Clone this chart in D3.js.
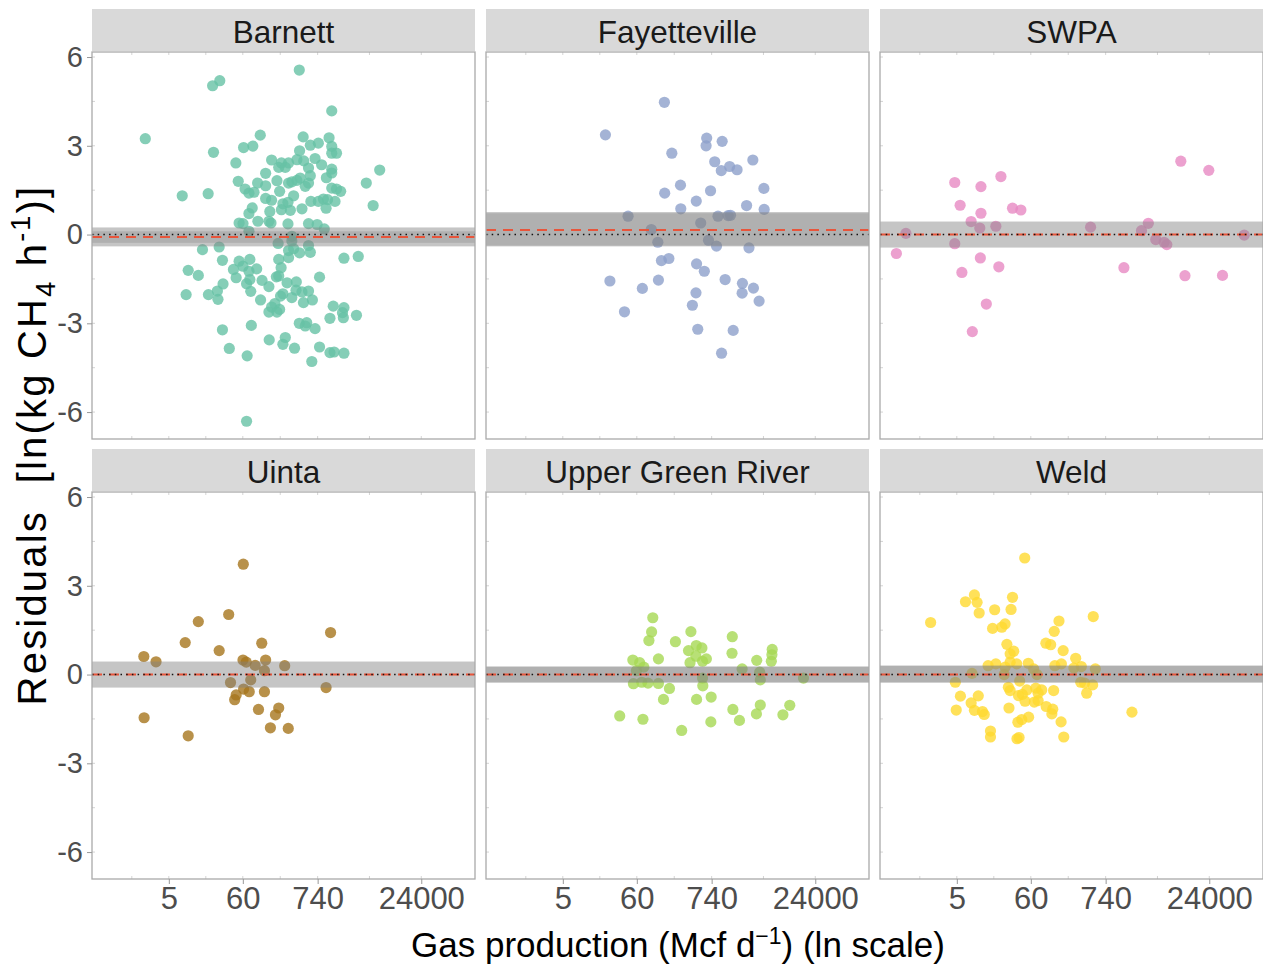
<!DOCTYPE html>
<html>
<head>
<meta charset="utf-8">
<script src="https://cdn.jsdelivr.net/npm/d3@7/dist/d3.min.js"></script>
<style>
  body { margin: 0; background: #fff; }
  text { font-family: "Liberation Sans", Arial, sans-serif; }
</style>
</head>
<body>
<div id="chart"></div>
<script>
// --- data: [ln(gas production), residual] ---
const basins = ["Barnett", "Fayetteville", "SWPA", "Uinta", "Upper Green River", "Weld"];

const barnett = [
  [5.99,5.56],[3.32,5.20],[3.08,5.03],[7.08,4.18],[0.82,3.24],[4.68,3.36],[4.43,2.99],[4.12,2.94],
  [3.11,2.78],[6.12,3.30],[6.63,3.09],[6.36,3.02],[6.99,3.27],[7.08,2.98],[7.08,2.75],[7.24,2.75],
  [3.86,2.42],[5.06,2.52],[6.00,2.83],[5.91,2.53],[6.14,2.49],[6.52,2.57],[6.74,2.36],[5.39,2.42],
  [5.63,2.42],[5.30,2.27],[5.52,2.27],[7.08,2.21],[7.08,2.08],[6.30,2.25],[8.69,2.18],[4.86,2.07],
  [6.90,1.92],[6.36,1.99],[6.02,1.91],[5.91,1.83],[5.24,1.82],[5.63,1.74],[5.74,1.78],[8.24,1.74],
  [3.94,1.80],[4.59,1.74],[4.86,1.65],[4.17,1.54],[6.19,1.63],[6.30,1.74],[7.08,1.57],[7.24,1.54],
  [7.38,1.46],[2.06,1.31],[2.93,1.38],[4.30,1.40],[4.47,1.43],[5.33,1.46],[4.86,1.22],[5.80,1.31],
  [6.38,1.12],[6.63,1.12],[6.80,1.20],[6.94,1.18],[7.19,1.12],[8.47,0.98],[5.06,1.16],[5.44,1.04],
  [5.61,1.09],[5.39,0.84],[5.69,0.82],[6.08,0.87],[6.89,0.89],[4.41,0.90],[4.30,0.71],[5.00,0.78],
  [4.60,0.45],[3.97,0.39],[4.10,0.37],[4.97,0.45],[5.04,0.39],[5.61,0.36],[6.30,0.37],[6.59,0.34],
  [6.83,0.19],[4.30,0.11],[5.74,-0.06],[5.74,-0.22],[5.28,-0.30],[5.80,-0.48],[5.63,-0.54],[6.00,-0.62],
  [6.30,-0.37],[6.36,-0.60],[2.74,-0.51],[3.30,-0.42],[3.41,-0.87],[5.30,-0.84],[5.63,-0.78],[7.49,-0.80],
  [7.97,-0.74],[3.97,-0.90],[4.33,-0.84],[4.10,-1.07],[3.78,-1.18],[4.56,-1.16],[4.30,-1.24],[5.38,-1.12],
  [2.26,-1.21],[2.60,-1.38],[3.87,-1.46],[4.33,-1.52],[5.22,-1.43],[5.30,-1.40],[6.67,-1.44],[4.74,-1.55],
  [4.22,-1.66],[5.58,-1.63],[5.89,-1.60],[4.97,-1.76],[3.43,-1.67],[4.36,-1.92],[3.24,-1.91],[5.88,-1.88],
  [6.30,-1.91],[5.44,-2.00],[5.74,-2.13],[6.08,-1.94],[2.19,-2.03],[2.94,-2.03],[3.26,-2.19],[4.69,-2.21],
  [5.36,-2.08],[6.43,-2.21],[5.17,-2.33],[6.13,-2.30],[5.06,-2.45],[4.97,-2.62],[5.24,-2.62],[5.33,-2.53],
  [7.13,-2.42],[7.49,-2.47],[7.44,-2.64],[7.47,-2.81],[7.02,-2.83],[7.91,-2.73],[5.99,-3.00],[6.24,-2.98],
  [6.19,-3.09],[6.52,-3.18],[4.38,-3.07],[3.41,-3.22],[5.52,-3.48],[4.98,-3.56],[5.44,-3.71],[5.83,-3.84],
  [6.67,-3.80],[3.64,-3.85],[4.24,-4.10],[7.02,-3.99],[7.16,-3.97],[7.49,-4.01],[6.41,-4.29],[4.22,-6.31]
];

const fayetteville = [
  [5.02,4.47],[3.04,3.37],[6.44,3.26],[6.96,3.15],[6.42,3.00],[5.27,2.75],[6.71,2.46],[7.99,2.52],
  [7.21,2.30],[6.93,2.16],[7.46,2.19],[5.56,1.67],[5.03,1.40],[6.57,1.48],[8.36,1.56],[6.09,1.13],
  [5.57,0.87],[7.78,0.98],[8.37,0.85],[3.80,0.62],[6.82,0.62],[7.16,0.64],[7.24,0.65],[6.24,0.39],
  [4.58,0.17],[4.80,-0.26],[6.50,-0.19],[6.77,-0.39],[7.86,-0.45],[4.92,-0.88],[5.17,-0.81],[6.10,-0.99],
  [6.36,-1.24],[3.19,-1.57],[4.82,-1.54],[7.06,-1.52],[7.64,-1.65],[4.28,-1.82],[8.01,-1.81],[6.08,-1.97],
  [7.63,-1.98],[8.20,-2.25],[5.96,-2.39],[3.68,-2.61],[6.14,-3.20],[7.33,-3.24],[6.94,-4.01]
];

const swpa = [
  [-0.42,-0.64],[-0.10,0.04],[1.54,1.76],[2.42,1.62],[3.09,1.96],[1.72,0.99],[2.42,0.72],[3.48,0.89],
  [3.76,0.83],[2.09,0.44],[2.38,0.22],[2.92,0.28],[1.54,-0.31],[2.40,-0.79],[1.78,-1.28],[3.02,-1.09],
  [2.60,-2.35],[2.13,-3.28],[6.10,0.25],[7.22,-1.12],[8.04,0.38],[7.81,0.13],[8.29,-0.17],[8.57,-0.26],
  [8.66,-0.34],[9.13,2.48],[10.07,2.17],[9.27,-1.39],[10.53,-1.38],[11.26,-0.02]
];

const uinta = [
  [4.11,3.73],[3.62,2.03],[2.60,1.79],[2.16,1.08],[3.30,0.81],[7.04,1.42],[4.73,1.06],[0.77,0.61],
  [1.18,0.43],[4.10,0.49],[4.21,0.42],[4.51,0.31],[4.86,0.49],[4.82,0.13],[5.50,0.30],[3.68,-0.27],
  [4.36,-0.18],[4.12,-0.49],[4.31,-0.58],[3.87,-0.69],[3.82,-0.85],[4.82,-0.58],[6.89,-0.44],[4.62,-1.18],
  [5.30,-1.13],[5.19,-1.36],[5.02,-1.80],[5.62,-1.82],[0.78,-1.46],[2.26,-2.07]
];

const upperGreenRiver = [
  [4.63,1.92],[4.59,1.44],[4.50,1.15],[5.39,1.11],[5.91,1.45],[7.30,1.28],[5.83,0.81],[6.09,0.98],
  [6.28,0.90],[6.08,0.62],[6.43,0.53],[6.30,0.45],[5.88,0.40],[7.29,0.72],[8.64,0.85],[8.63,0.67],
  [8.61,0.45],[8.12,0.48],[4.82,0.53],[3.96,0.49],[4.19,0.40],[4.33,0.25],[7.63,0.19],[8.22,0.08],
  [9.69,-0.12],[8.24,-0.18],[6.30,-0.12],[3.98,-0.31],[4.26,-0.26],[4.47,-0.29],[4.82,-0.30],[6.31,-0.38],
  [5.19,-0.47],[4.99,-0.84],[6.10,-0.84],[6.59,-0.76],[8.24,-1.03],[9.23,-1.04],[7.32,-1.18],[8.11,-1.33],
  [9.00,-1.36],[3.52,-1.40],[4.30,-1.51],[6.58,-1.60],[7.54,-1.55],[5.60,-1.89],[4.08,0.13]
];

const weld = [
  [3.89,3.94],[2.20,2.69],[1.90,2.46],[2.29,2.44],[2.36,2.08],[3.48,2.61],[2.88,2.19],[3.43,2.20],
  [0.73,1.76],[3.23,1.71],[3.12,1.60],[2.81,1.56],[6.19,1.96],[5.04,1.81],[4.88,1.46],[4.60,1.06],
  [4.76,1.01],[3.29,1.02],[3.52,0.79],[3.40,0.70],[5.18,0.81],[5.60,0.55],[2.66,0.30],[2.92,0.36],
  [3.40,0.42],[3.62,0.36],[4.01,0.38],[4.19,0.19],[4.90,0.30],[5.12,0.36],[5.54,0.22],[5.79,0.27],
  [6.26,0.19],[3.23,0.25],[2.12,0.04],[3.20,0.00],[4.30,0.00],[1.56,-0.26],[3.72,-0.22],[5.77,-0.26],
  [5.90,-0.29],[6.17,-0.35],[5.97,-0.63],[4.86,-0.54],[3.34,-0.43],[3.40,-0.54],[3.96,-0.52],[4.26,-0.46],
  [4.46,-0.52],[3.68,-0.71],[3.81,-0.67],[4.34,-0.63],[3.90,-0.90],[4.21,-0.93],[4.34,-0.88],[1.73,-0.73],
  [2.33,-0.72],[2.09,-0.96],[1.59,-1.20],[2.20,-1.21],[2.47,-1.25],[2.53,-1.35],[3.36,-1.13],[4.61,-1.08],
  [4.83,-1.17],[4.80,-1.33],[4.02,-1.44],[3.79,-1.52],[3.66,-1.61],[5.11,-1.60],[7.49,-1.27],[2.74,-1.91],
  [2.74,-2.11],[3.63,-2.17],[3.70,-2.13],[5.20,-2.11]
];

// mean residual (red dashed) and confidence bands (outer / inner)
const meanResid = [-0.08, 0.15, 0, 0, 0, 0];
const bandOuterLo = [-0.40, -0.40, -0.44, -0.44, -0.27, -0.27];
const bandOuterHi = [0.24, 0.76, 0.44, 0.44, 0.27, 0.30];
const bandInnerLo = [-0.28, -0.37, 0, 0, -0.27, -0.27];
const bandInnerHi = [0.11, 0.72, 0, 0, 0.27, 0.30];

const xTickLabels = [5, 60, 740, 24000];
const yTicks = [-6, -3, 0, 3, 6];

const basinData = [barnett, fayetteville, swpa, uinta, upperGreenRiver, weld];
const colors = ["#66c2a5", "#8da0cb", "#e78ac3", "#a6761d", "#a6d854", "#ffd92f"];

// --- layout ---
const W = 1263, H = 965;
const colX = [92, 486, 880];
const rowY = [9, 449];
const stripH = 43, panelW = 383, panelH = 387;

const svg = d3.select("#chart").append("svg")
  .attr("width", W)
  .attr("height", H);

const x = d3.scaleLinear().domain([-0.97, 11.89]).range([0, panelW]);
const y = d3.scaleLinear().domain([-6.91, 6.17]).range([panelH, 0]);

const xMajor = xTickLabels.map(v => Math.log(v));
const xMinor = d3.pairs(xMajor).map(p => (p[0] + p[1]) / 2);
xMinor.push(xMajor[0] - (xMinor[0] - xMajor[0]));
const yGrid = d3.range(-6, 6.01, 1.5);

basins.forEach((name, i) => {
  const col = i % 3, row = Math.floor(i / 3);
  const g = svg.append("g")
    .attr("transform", `translate(${colX[col]}, ${rowY[row]})`);

  // strip
  g.append("rect")
    .attr("width", panelW).attr("height", stripH - 1)
    .attr("fill", "#d9d9d9");
  g.append("text")
    .attr("x", panelW / 2).attr("y", stripH / 2 + 1)
    .attr("text-anchor", "middle")
    .attr("dominant-baseline", "central")
    .attr("font-size", 31.5)
    .attr("fill", "#1a1a1a")
    .text(name);

  const p = g.append("g").attr("transform", `translate(0, ${stripH})`);
  p.append("rect").attr("width", panelW).attr("height", panelH).attr("fill", "#fff");

  // faint grid stubs at the panel edges
  const stub = 3;
  const xs = xMajor.concat(xMinor);
  p.selectAll(".xstub-t").data(xs).join("line")
    .attr("x1", d => x(d)).attr("x2", d => x(d))
    .attr("y1", 0).attr("y2", stub)
    .attr("stroke", "#d4d4d4");
  p.selectAll(".xstub-b").data(xs).join("line")
    .attr("x1", d => x(d)).attr("x2", d => x(d))
    .attr("y1", panelH - stub).attr("y2", panelH)
    .attr("stroke", "#d4d4d4");
  p.selectAll(".ystub").data(yGrid).join("line")
    .attr("x1", 0).attr("x2", stub)
    .attr("y1", d => y(d)).attr("y2", d => y(d))
    .attr("stroke", "#d4d4d4");

  // points
  p.append("g").selectAll("circle")
    .data(basinData[i])
    .join("circle")
    .attr("cx", d => x(d[0]))
    .attr("cy", d => y(d[1]))
    .attr("r", 5.6)
    .attr("fill", colors[i])
    .attr("fill-opacity", 0.8);

  // confidence bands drawn over the points
  p.append("rect")
    .attr("x", 0).attr("width", panelW)
    .attr("y", y(bandOuterHi[i]))
    .attr("height", y(bandOuterLo[i]) - y(bandOuterHi[i]))
    .attr("fill", "#808080").attr("fill-opacity", 0.46);
  p.append("rect")
    .attr("x", 0).attr("width", panelW)
    .attr("y", y(bandInnerHi[i]))
    .attr("height", y(bandInnerLo[i]) - y(bandInnerHi[i]))
    .attr("fill", "#808080").attr("fill-opacity", 0.3);

  // mean residual (dashed) and zero line (dotted)
  p.append("line")
    .attr("x1", 0).attr("x2", panelW)
    .attr("y1", y(meanResid[i])).attr("y2", y(meanResid[i]))
    .attr("stroke", "#e8553b").attr("stroke-width", 2)
    .attr("stroke-dasharray", "10,7");
  p.append("line")
    .attr("x1", 0).attr("x2", panelW)
    .attr("y1", y(0)).attr("y2", y(0))
    .attr("stroke", "#111").attr("stroke-width", 1.6)
    .attr("stroke-dasharray", "1.5,4.2");

  // border
  p.append("rect")
    .attr("width", panelW).attr("height", panelH)
    .attr("fill", "none").attr("stroke", "#aaa").attr("stroke-width", 1.3);

  // axes
  if (col === 0) {
    const ay = p.append("g")
      .call(d3.axisLeft(y).tickValues(yTicks)
        .tickFormat(d => String(d))
        .tickSize(5).tickPadding(4));
    ay.select(".domain").remove();
    ay.selectAll("line").attr("stroke", "#999");
    ay.selectAll("text")
      .attr("font-size", 29)
      .attr("fill", "#4d4d4d")
      .attr("font-family", "Liberation Sans, Arial, sans-serif");
  }
  if (row === 1) {
    const ax = p.append("g")
      .attr("transform", `translate(0, ${panelH})`)
      .call(d3.axisBottom(x).tickValues(xMajor)
        .tickFormat((d, k) => xTickLabels[k])
        .tickSize(5).tickPadding(3));
    ax.select(".domain").remove();
    ax.selectAll("line").attr("stroke", "#999");
    ax.selectAll("text")
      .attr("font-size", 31)
      .attr("fill", "#4d4d4d")
      .attr("font-family", "Liberation Sans, Arial, sans-serif");
  }
});

// x axis title
const xt = svg.append("text")
  .attr("x", 678).attr("y", 957)
  .attr("text-anchor", "middle")
  .attr("font-size", 35)
  .attr("fill", "#000");
xt.append("tspan").text("Gas production (Mcf d");
xt.append("tspan").attr("dy", -13).attr("font-size", 23).text("\u22121");
xt.append("tspan").attr("dy", 13).text(") (ln scale)");

// y axis title
const yt = svg.append("text")
  .attr("transform", "translate(46, 445) rotate(-90)")
  .attr("text-anchor", "middle")
  .attr("font-family", "'Open Sans', sans-serif")
  .attr("font-size", 40)
  .attr("letter-spacing", 2.2)
  .attr("fill", "#000");
yt.append("tspan").text("Residuals\u00a0\u00a0[ln(kg\u00a0CH");
yt.append("tspan").attr("dy", 9).attr("font-size", 27).text("4");
yt.append("tspan").attr("dy", -9).text("\u00a0h");
yt.append("tspan").attr("dy", -16).attr("font-size", 27).text("-1");
yt.append("tspan").attr("dy", 16).text(")]");
</script>
</body>
</html>
